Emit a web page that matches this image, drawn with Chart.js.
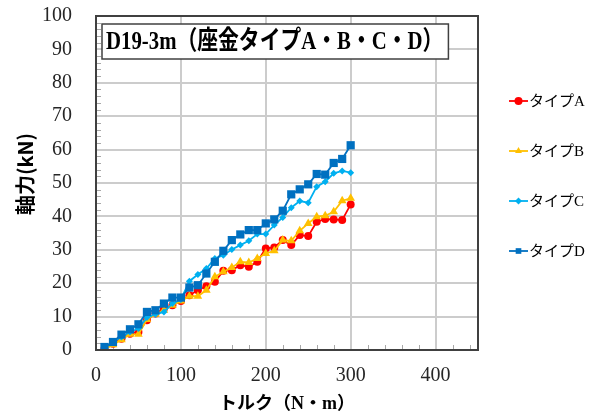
<!DOCTYPE html>
<html>
<head>
<meta charset="utf-8">
<script src="https://cdn.jsdelivr.net/npm/chart.js@4/dist/chart.umd.min.js"></script>
<style>
  html, body { margin: 0; padding: 0; background: #ffffff; }
  #wrap { width: 591px; height: 416px; }
</style>
</head>
<body>
<div id="wrap"><canvas id="chart" width="591" height="416"></canvas></div>
<script>
// Torque steps (N·m)
const torque = [10, 20, 30, 40, 50, 60, 70, 80, 90, 100,
                110, 120, 130, 140, 150, 160, 170, 180, 190, 200,
                210, 220, 230, 240, 250, 260, 270, 280, 290, 300];

// Axial force (kN) for each washer type
const typeA = [0.4, 1.9, 3.4, 4.9, 5.4, 8.9, 10.9, 12.4, 13.4, 14.7,
               16.4, 17.9, 19.1, 20.4, 23.7, 23.9, 25.4, 24.9, 26.4, 30.4,
               30.7, 32.9, 31.4, 34.4, 34.1, 38.4, 39.2, 39.1, 38.9, 43.6];
const typeB = [0.2, 1.6, 3.1, 4.7, 4.7, 9.1, 10.7, 11.9, 13.4, 14.7,
               16.1, 16.1, 17.9, 21.9, 23.4, 24.7, 26.4, 26.2, 27.4, 28.9,
               29.7, 32.9, 32.7, 35.7, 37.9, 39.9, 40.2, 41.4, 44.7, 45.4];
const typeC = [0.7, 2.4, 3.9, 5.4, 6.4, 9.7, 10.7, 11.4, 13.9, 15.1,
               20.6, 22.6, 24.4, 27.4, 28.4, 30.1, 31.4, 32.7, 34.7, 34.7,
               37.4, 39.7, 42.6, 44.6, 44.1, 48.9, 50.4, 52.9, 53.6, 53.1];
const typeD = [0.9, 2.4, 4.6, 6.2, 7.7, 11.4, 11.9, 13.9, 15.7, 15.7,
               18.7, 19.4, 22.9, 26.4, 29.7, 32.9, 34.6, 35.9, 35.9, 37.9,
               39.1, 41.7, 46.6, 48.1, 49.6, 52.7, 52.5, 56.0, 57.2, 61.3];

const seriesNames = ['タイプA', 'タイプB', 'タイプC', 'タイプD'];
const xTicks = [0, 100, 200, 300, 400];
const yTicks = [0, 10, 20, 30, 40, 50, 60, 70, 80, 90, 100];
const titleText = 'D19-3m（座金タイプA・B・C・D）';
const xTitle = 'トルク（N・m）';
const yTitle = '軸力(kN)';

const serifJP = "'Liberation Serif', 'Times New Roman', 'Noto Sans CJK JP', serif";
const gothicJP = "'Noto Sans CJK JP', 'Noto Sans', sans-serif";

function pairs(ys) {
  return ys.map((y, i) => ({ x: torque[i], y: y }));
}

const styles = [
  { color: '#ff0000', pointStyle: 'circle',   radius: 4,   order: 3 },
  { color: '#ffc000', pointStyle: 'triangle', radius: 5,   order: 2 },
  { color: '#00b0f0', pointStyle: 'rectRot',  radius: 3.5, order: 1 },
  { color: '#0070c0', pointStyle: 'rect',     radius: 5.8, order: 0 }
];
const values = [typeA, typeB, typeC, typeD];

const datasets = values.map((v, i) => ({
  label: seriesNames[i],
  data: pairs(v),
  borderColor: styles[i].color,
  backgroundColor: styles[i].color,
  pointBackgroundColor: styles[i].color,
  pointBorderColor: styles[i].color,
  pointStyle: styles[i].pointStyle,
  pointRadius: styles[i].radius,
  pointBorderWidth: 0,
  borderWidth: 1.8,
  tension: 0,
  fill: false,
  order: styles[i].order
}));

// Gridlines and minor tick marks, painted behind the series
const gridPlugin = {
  id: 'plotGrid',
  beforeDatasetsDraw(chart) {
    const { ctx, chartArea: a, scales } = chart;
    const sx = scales.x, sy = scales.y;
    ctx.save();
    ctx.fillStyle = '#cccccc';
    for (let i = 0; i < yTicks.length; i++) {
      const y = Math.round(sy.getPixelForValue(yTicks[i]));
      ctx.fillRect(a.left, y - 1, a.right - a.left, 2);
    }
    for (let i = 0; i < xTicks.length; i++) {
      const x = Math.round(sx.getPixelForValue(xTicks[i]));
      ctx.fillRect(x - 1, a.top, 2, a.bottom - a.top);
    }
    ctx.fillStyle = '#a8a8a8';
    for (let v = 2; v < 100; v += 2) {
      if (v % 10 === 0) continue;
      const y = Math.round(sy.getPixelForValue(v));
      ctx.fillRect(a.left, y, 5, 1);
    }
    for (let v = 20; v < 450; v += 20) {
      if (v % 100 === 0) continue;
      const x = Math.round(sx.getPixelForValue(v));
      ctx.fillRect(x, a.bottom - 5, 1, 5);
    }
    ctx.restore();
  }
};

// Dark frame round the plot and the vertical axis title
const framePlugin = {
  id: 'frame',
  afterDraw(chart) {
    const { ctx, chartArea: a } = chart;
    ctx.save();
    ctx.strokeStyle = '#404040';
    ctx.lineWidth = 2;
    ctx.strokeRect(a.left, a.top, a.right - a.left, a.bottom - a.top);
    ctx.translate(25, 174);
    ctx.rotate(-Math.PI / 2);
    ctx.font = 'bold 20px ' + gothicJP;
    ctx.fillStyle = '#000000';
    ctx.textAlign = 'center';
    ctx.textBaseline = 'middle';
    ctx.fillText(yTitle, 0, 0);
    ctx.restore();
  }
};

// Boxed heading inside the plot
const headingPlugin = {
  id: 'heading',
  afterDraw(chart) {
    const { ctx, chartArea: a } = chart;
    const squeeze = 0.8;
    ctx.save();
    ctx.font = 'bold 26px ' + serifJP;
    const w = ctx.measureText(titleText).width * squeeze;
    const bx = a.left + 6, by = a.top + 8, bw = w + 9, bh = 35;
    ctx.fillStyle = '#ffffff';
    ctx.fillRect(bx, by, bw, bh);
    ctx.strokeStyle = '#404040';
    ctx.lineWidth = 1.5;
    ctx.strokeRect(bx, by, bw, bh);
    ctx.translate(bx + 4, by + bh / 2 + 1);
    ctx.scale(squeeze, 1);
    ctx.fillStyle = '#000000';
    ctx.textBaseline = 'middle';
    ctx.textAlign = 'left';
    ctx.fillText(titleText, 0, 0);
    ctx.restore();
  }
};

// Legend on the right: line segment with marker, then the name
const sideLegendPlugin = {
  id: 'sideLegend',
  afterDraw(chart) {
    const { ctx } = chart;
    ctx.save();
    chart.data.datasets.forEach((ds, i) => {
      const y = 101 + i * 50;
      const x0 = 509, x1 = 528;
      ctx.strokeStyle = ds.borderColor;
      ctx.lineWidth = 1.8;
      ctx.beginPath();
      ctx.moveTo(x0, y);
      ctx.lineTo(x1, y);
      ctx.stroke();
      ctx.fillStyle = ds.borderColor;
      ctx.strokeStyle = ds.borderColor;
      Chart.helpers.drawPoint(ctx, {
        pointStyle: ds.pointStyle,
        radius: Math.min(ds.pointRadius, 4),
        borderWidth: 0,
        rotation: 0
      }, (x0 + x1) / 2, y);
      ctx.fillStyle = '#000000';
      ctx.font = '15px ' + serifJP;
      ctx.textBaseline = 'middle';
      ctx.textAlign = 'left';
      ctx.fillText(ds.label, 529, y + 1);
    });
    ctx.restore();
  }
};

new Chart(document.getElementById('chart'), {
  type: 'line',
  data: { datasets: datasets },
  plugins: [gridPlugin, framePlugin, headingPlugin, sideLegendPlugin],
  options: {
    responsive: false,
    animation: false,
    devicePixelRatio: 1,
    layout: { padding: { left: 0, top: 16, right: 113, bottom: 0 } },
    plugins: {
      legend: { display: false },
      tooltip: { enabled: false },
      title: { display: false }
    },
    scales: {
      x: {
        type: 'linear',
        min: 0,
        max: 450,
        afterBuildTicks(scale) { scale.ticks = xTicks.map(v => ({ value: v })); },
        afterFit(scale) {
          scale.height = 66;
          scale.paddingLeft = 0;
          scale.paddingRight = 0;
        },
        grid: { display: false, drawTicks: false },
        border: { display: false },
        ticks: {
          padding: 14,
          color: '#262626',
          font: { family: serifJP, size: 20 }
        },
        title: {
          display: true,
          text: xTitle,
          color: '#000000',
          font: { family: serifJP, size: 18, weight: 'bold' },
          padding: { top: 0, bottom: 1 }
        }
      },
      y: {
        type: 'linear',
        min: 0,
        max: 100,
        afterBuildTicks(scale) { scale.ticks = yTicks.map(v => ({ value: v })); },
        afterFit(scale) {
          scale.width = 96;
          scale.paddingTop = 0;
          scale.paddingBottom = 0;
        },
        grid: { display: false, drawTicks: false },
        border: { display: false },
        ticks: {
          padding: 24,
          color: '#262626',
          font: { family: serifJP, size: 20 }
        },
        title: { display: false }
      }
    }
  }
});
</script>
</body>
</html>
